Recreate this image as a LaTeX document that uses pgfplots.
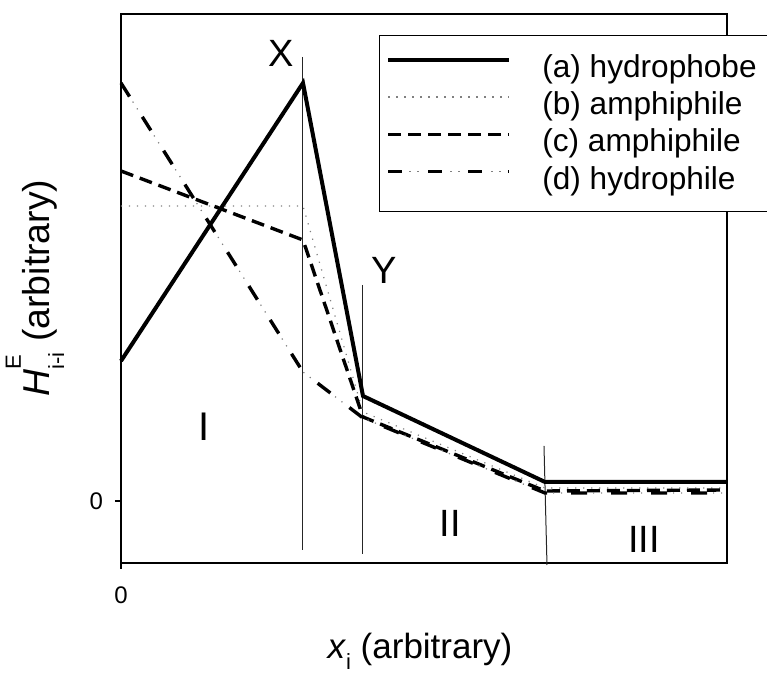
\documentclass[border=0pt]{standalone}
\usepackage{pgfplots}
\pgfplotsset{compat=1.18}
\usepackage{fontspec}
\setmainfont{Liberation Sans}
\begin{document}
\begin{tikzpicture}
\path[use as bounding box] (-60.5pt,-55pt) rectangle (323pt,281.5pt);
\clip (-60.5pt,-55pt) rectangle (323pt,281.5pt);
\begin{axis}[
 at={(0pt,0pt)}, anchor=south west,
 scale only axis, width=303pt, height=274.5pt,
 xmin=0, xmax=606, ymin=-62, ymax=487,
 clip=false,
 axis line style={line width=0.6pt},
 xtick={0}, ytick={0},
 xticklabel={\fontsize{12}{14}\selectfont\pgfmathprintnumber[assume math mode=true]{\tick}},
 yticklabel={\fontsize{12}{14}\selectfont\pgfmathprintnumber[assume math mode=true]{\tick}},
 tick align=outside, tick pos=left, major tick length=3pt,
 tick style={line width=0.6pt, black},
 xticklabel style={yshift=-5.5pt},
 yticklabel style={xshift=-2.5pt},
 legend cell align=left,
 legend style={at={(0.4257,0.9617)}, anchor=north west, draw=black,
   font=\fontsize{15.8}{19}\selectfont, inner xsep=3.5pt, inner ysep=7.5pt,
   column sep=12.5pt, row sep=1.7pt, nodes={inner xsep=3pt, inner ysep=2pt}},
 legend image code/.code={\path (0pt,0pt); \draw[#1] (0pt,3.8pt) -- (60.5pt,3.8pt);},
]
\addplot[black!85, line width=0.5pt, forget plot] coordinates {(182,444) (182,-49)};
\addplot[black!85, line width=0.5pt, forget plot] coordinates {(242,216) (242,-53)};
\addplot[black!85, line width=0.5pt, forget plot] coordinates {(423,55) (426,-64)};

\addplot[black, line width=2pt] coordinates {(0,140) (182,418) (242,105) (424,19) (606,19)};
\addlegendentry{(a) hydrophobe}
\addplot[gray, line width=0.6pt, dash pattern=on 0.6pt off 3.4pt] coordinates {(0,295) (182,295) (242,89) (424,13) (606,13)};
\addlegendentry{(b) amphiphile}
\addplot[black, line width=1.7pt, dash pattern=on 6.5pt off 3.5pt] coordinates {(0,330) (182,261) (242,84) (424,10) (606,11)};
\addlegendentry{(c) amphiphile}
\addplot[black, line width=1.7pt, dash pattern=on 8pt off 12pt,
  legend image code/.code={\path (0pt,0pt); \draw[black, line width=1.7pt, dash pattern=on 7pt off 13pt] (0pt,3.8pt) -- (60.5pt,3.8pt);
  \draw[gray, line width=0.6pt, dash pattern=on 0pt off 10.5pt on 0.6pt off 3.4pt on 0.6pt off 5.4pt] (0pt,3.8pt) -- (60.5pt,3.8pt);}]
  coordinates {(0,418) (182,129) (242,83) (424,8) (606,8)};
\addlegendentry{(d) hydrophile}
\addplot[gray, line width=0.6pt, dash pattern=on 0pt off 11pt on 0.6pt off 3.4pt on 0.6pt off 4.4pt, forget plot]
  coordinates {(0,418) (182,129) (242,83) (424,8) (606,8)};

\node[font=\fontsize{19}{23}\selectfont] at (axis cs:160,448) {X};
\node[font=\fontsize{19}{23}\selectfont] at (axis cs:263,231) {Y};
\node[font=\fontsize{20}{24}\selectfont] at (axis cs:83,74) {I};
\node[font=\fontsize{19}{23}\selectfont] at (axis cs:329,-22) {II};
\node[font=\fontsize{19}{23}\selectfont] at (axis cs:523,-38) {III};
\node[rotate=90, anchor=base, font=\fontsize{18.7}{22}\selectfont] at (axis cs:-71,213)
  {\textit{H}\rlap{\raisebox{0.78em}{\fontsize{11}{11}\selectfont E}}\raisebox{-0.38em}{\fontsize{11}{11}\selectfont i-i} (arbitrary)};
\node[anchor=base, inner sep=0pt, font=\fontsize{17.5}{21}\selectfont] at (axis cs:299,-158)
  {\textit{x}\raisebox{-0.3em}{\fontsize{11}{11}\selectfont i} (arbitrary)};
\end{axis}
\end{tikzpicture}
\end{document}
